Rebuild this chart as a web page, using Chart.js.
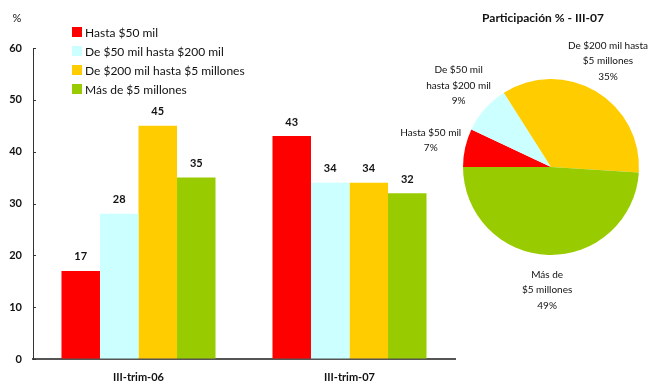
<!DOCTYPE html>
<html>
<head>
<meta charset="utf-8">
<script src="https://cdn.jsdelivr.net/npm/chart.js@4"></script>
<style>
  body { margin: 0; background: #fff; }
  #wrap { position: relative; width: 649px; height: 385px; }
  #barBox { position: absolute; left: 0; top: 0; width: 470px; height: 385px; }
  #pieBox { position: absolute; left: 380px; top: 0; width: 269px; height: 385px; }
</style>
</head>
<body>
<div id="wrap">
  <div id="barBox"><canvas id="grphBar"></canvas></div>
  <div id="pieBox"><canvas id="grphPie"></canvas></div>
</div>
<script>
// trimestres
var periods = ["III-trim-06", "III-trim-07"];
var segments = ["Hasta $50 mil", "De $50 mil hasta $200 mil", "De $200 mil hasta $5 millones", "Más de $5 millones"];
var segColors = ["#ff0000", "#ccffff", "#ffcc00", "#99cc00"];

// % por tramo de monto
var hasta50 = [17, 43];
var de50a200 = [28, 34];
var de200a5m = [45, 34];
var mas5m = [35, 32];

var yTicks = [0, 10, 20, 30, 40, 50, 60];

// participacion III-07
var pieLabels = [["Hasta $50 mil"], ["De $50 mil", "hasta $200 mil"], ["De $200 mil hasta", "$5 millones"], ["Más de", "$5 millones"]];
var pieValues = [7, 9, 35, 49];

var FONT = "Lato, 'Open Sans', sans-serif";
Chart.defaults.font.family = FONT;
Chart.defaults.color = "#000";

// values above bars, legend, % label and short inner ticks
var barExtras = {
    id: "barExtras",
    afterDatasetsDraw: function (chart) {
        var ctx = chart.ctx;
        ctx.save();
        ctx.fillStyle = "#111";
        ctx.font = "bold 11px " + FONT;
        ctx.textAlign = "center";
        ctx.textBaseline = "middle";
        chart.data.datasets.forEach(function (ds, i) {
            chart.getDatasetMeta(i).data.forEach(function (bar, j) {
                ctx.fillText(String(ds.data[j]), bar.x, bar.y - 14);
            });
        });

        // legend
        ctx.font = "12px " + FONT;
        ctx.textAlign = "left";
        chart.data.datasets.forEach(function (ds, i) {
            var y = 32 + i * 19;
            ctx.fillStyle = ds.backgroundColor;
            ctx.fillRect(72, y - 5, 10, 10);
            ctx.fillStyle = "#111";
            ctx.fillText(ds.label, 85, y + 1);
        });

        ctx.font = "11px " + FONT;
        ctx.textAlign = "center";
        ctx.fillText("%", 17, 18);

        var ys = chart.scales.y;
        ctx.strokeStyle = "#333";
        ctx.lineWidth = 1;
        ys.ticks.forEach(function (t) {
            var py = Math.round(ys.getPixelForValue(t.value)) + 0.5;
            ctx.beginPath();
            ctx.moveTo(ys.right, py);
            ctx.lineTo(ys.right + 3, py);
            ctx.stroke();
        });
        ctx.restore();
    }
};

new Chart(document.getElementById("grphBar").getContext("2d"), {
    type: "bar",
    data: {
        labels: periods,
        datasets: [
            { label: segments[0], data: hasta50, backgroundColor: segColors[0] },
            { label: segments[1], data: de50a200, backgroundColor: segColors[1] },
            { label: segments[2], data: de200a5m, backgroundColor: segColors[2] },
            { label: segments[3], data: mas5m, backgroundColor: segColors[3] }
        ]
    },
    options: {
        responsive: true,
        maintainAspectRatio: false,
        animation: false,
        layout: { padding: { top: 48, right: 15, left: 0, bottom: 0 } },
        datasets: { bar: { categoryPercentage: 0.73, barPercentage: 1.0, borderWidth: 0 } },
        plugins: { legend: { display: false }, tooltip: { enabled: false } },
        scales: {
            x: {
                grid: { display: false, drawTicks: false },
                border: { display: true, color: "#555", width: 2 },
                ticks: { padding: 12, font: { size: 11, weight: "bold" }, color: "#111" },
                afterFit: function (s) { s.height = 26; }
            },
            y: {
                min: 0,
                max: 60,
                afterBuildTicks: function (s) {
                    s.ticks = yTicks.map(function (v) { return { value: v }; });
                },
                grid: { drawOnChartArea: false, drawTicks: false },
                border: { display: true, color: "#333", width: 1 },
                ticks: { padding: 11, font: { size: 11, weight: "bold" }, color: "#111" },
                afterFit: function (s) { s.width = 33; }
            }
        }
    },
    plugins: [barExtras]
});

// title and outside labels of the pie
var pieText = {
    id: "pieText",
    afterDatasetsDraw: function (chart) {
        var ctx = chart.ctx;
        var ds = chart.data.datasets[0];
        var total = ds.data.reduce(function (a, b) { return a + b; }, 0);
        ctx.save();
        ctx.fillStyle = "#111";
        ctx.textAlign = "center";
        ctx.textBaseline = "middle";
        ctx.font = "bold 12px " + FONT;
        ctx.fillText("Participación % - III-07", 163, 18);

        ctx.font = "10px " + FONT;
        chart.getDatasetMeta(0).data.forEach(function (arc, i) {
            var mid = (arc.startAngle + arc.endAngle) / 2;
            var r = arc.outerRadius * 1.4;
            var cx = arc.x + Math.cos(mid) * r;
            var cy = arc.y + Math.sin(mid) * r;
            var lines = chart.data.labels[i].concat([Math.round(ds.data[i] / total * 100) + "%"]);
            // keep text inside the canvas
            var w = Math.max.apply(null, lines.map(function (l) { return ctx.measureText(l).width; }));
            cx = Math.min(cx, chart.width - w / 2 - 1);
            var y0 = cy - (lines.length - 1) * 7.75;
            lines.forEach(function (ln, k) {
                ctx.fillText(ln, cx, y0 + k * 15.5);
            });
        });
        ctx.restore();
    }
};

new Chart(document.getElementById("grphPie").getContext("2d"), {
    type: "pie",
    data: {
        labels: pieLabels,
        datasets: [{
            data: pieValues,
            backgroundColor: segColors,
            borderWidth: 0
        }]
    },
    options: {
        responsive: true,
        maintainAspectRatio: false,
        animation: false,
        // first slice starts at 9 o'clock
        rotation: -90,
        layout: { padding: { top: 79, left: 83, right: 10, bottom: 130 } },
        plugins: { legend: { display: false }, tooltip: { enabled: false } }
    },
    plugins: [pieText]
});
</script>
</body>
</html>
